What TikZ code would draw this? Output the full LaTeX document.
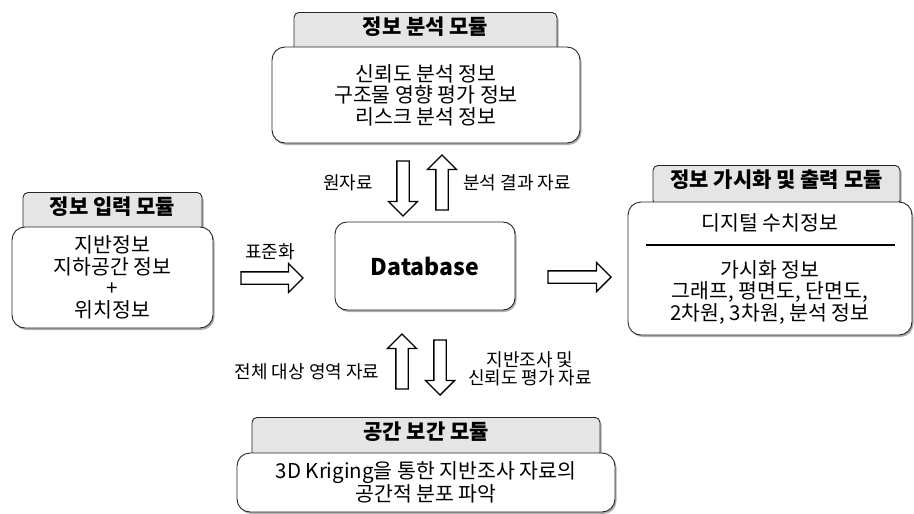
\documentclass[tikz,border=0pt]{standalone}
\usepackage{fontspec}
\setmainfont{Noto Sans CJK KR}
\usetikzlibrary{shapes.arrows,shadows}

\begin{document}
\begin{tikzpicture}[x=1pt, y=-1pt,
    shade/.style={drop shadow={shadow xshift=1.5pt, shadow yshift=-2pt, fill=black!45, opacity=.7}},
    tabbox/.style={shade, draw=black!85, line width=0.9pt, fill=black!10, rounded corners=5pt, anchor=north, minimum height=40pt, font=\fontsize{21}{23}\selectfont\bfseries, text height=0.88em, text depth=0.38em},
    modbox/.style={shade, draw=black!85, line width=0.9pt, fill=white, rounded corners=13pt, align=center, font=\fontsize{20.5}{21.5}\selectfont},
    fatarr/.style={single arrow, draw=black, line width=1.3pt, fill=white, inner sep=0pt, text height=11pt, text depth=0pt, minimum width=28pt, single arrow head extend=8.5pt},
    lbl/.style={align=center, font=\fontsize{18}{19}\selectfont}
]
    \useasboundingbox (0,0) rectangle (914,514);

    % analysis module (top)
    \node[tabbox, minimum width=263pt] (anaTab) at (425.5,12) {정보 분석 모듈};
    \node[modbox, minimum width=308pt, minimum height=96pt] (anaBody) at (426,95) {신뢰도 분석 정보\\구조물 영향 평가 정보\\리스크 분석 정보};

    % input module (left)
    \node[tabbox, minimum width=179pt] (inTab) at (112.5,192) {정보 입력 모듈};
    \node[modbox, minimum width=201pt, minimum height=101pt] (inBody) at (112.5,277.5) {지반정보\\지하공간 정보\\+\\위치정보};

    % visualisation / output module (right)
    \node[tabbox, minimum width=247pt] (outTab) at (776.5,165) {정보 가시화 및 출력 모듈};
    \node[modbox, minimum width=284pt, minimum height=133pt] (outBody) at (770,268.5) {디지털 수치정보\\[-6pt]\rule{249pt}{2pt}\\[10pt]가시화 정보\\그래프, 평면도, 단면도,\\2차원, 3차원, 분석 정보};

    % interpolation module (bottom)
    \node[tabbox, minimum width=348pt] (krTab) at (426,417) {공간 보간 모듈};
    \node[modbox, minimum width=378pt, minimum height=59pt, font=\fontsize{20.5}{23}\selectfont] (krBody) at (426,482.5) {3D Kriging을 통한 지반조사 자료의\\공간적 분포 파악};

    % database
    \node[modbox, rounded corners=12pt, minimum width=180pt, minimum height=88pt, font=\fontsize{23}{26}\selectfont\bfseries] (db) at (425,266) {Database};

    % block arrows
    \node[fatarr, minimum height=62pt] (stdArr) at (269,278) {};
    \node[fatarr, minimum height=63pt] (outArr) at (576.5,277) {};
    \node[fatarr, minimum height=55pt, rotate=-90] (rawArr) at (403,185.5) {};
    \node[fatarr, minimum height=55pt, rotate=90] (resArr) at (442,185.5) {};
    \node[fatarr, minimum height=55pt, rotate=90] (areaArr) at (402,364.5) {};
    \node[fatarr, minimum height=55pt, rotate=-90] (survArr) at (440,364.5) {};

    % arrow labels
    \node[lbl] (stdLbl) at (270,252) {표준화};
    \node[lbl] (rawLbl) at (348,183) {원자료};
    \node[lbl] (resLbl) at (517,183) {분석 결과 자료};
    \node[lbl] (areaLbl) at (307,372) {전체 대상 영역 자료};
    \node[lbl, font=\fontsize{18}{18}\selectfont] (survLbl) at (530,369) {지반조사 및\\신뢰도 평가 자료};
\end{tikzpicture}
\end{document}
